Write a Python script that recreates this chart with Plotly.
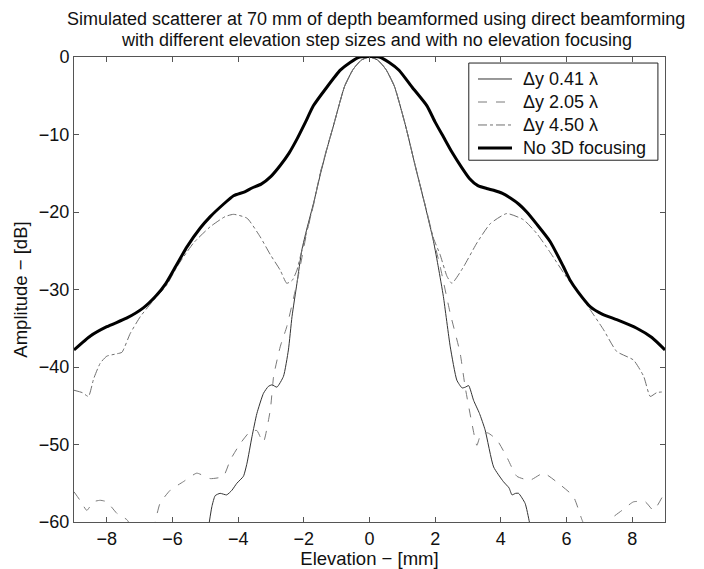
import plotly.graph_objects as go

# ---- data ----
x_nofocus = [-9.0, -8.5, -8.0, -7.4, -6.9, -6.5, -6.2, -5.9, -5.56, -5.16, -4.85, -4.45, -4.14, -3.8,
             -3.58, -3.3, -3.0, -2.72, -2.45, -2.21, -1.95, -1.71, -1.30, -0.89, -0.59, -0.3,
             0.3, 0.6, 0.9, 1.3, 1.75, 2.0, 2.25, 2.5, 2.8, 3.05, 3.3, 3.6, 3.78, 4.05, 4.29, 4.55, 4.79,
             5.1, 5.5, 5.9, 6.11, 6.35, 6.72, 7.1, 7.53, 8.14, 8.6, 9.0]
y_nofocus = [-37.8, -36.0, -34.8, -33.7, -32.4, -30.8, -29.2, -27.0, -24.5, -22.1, -20.6, -19.0, -17.9, -17.4,
             -16.9, -16.4, -15.4, -14.0, -12.4, -10.6, -8.4, -6.3, -3.9, -1.7, -0.7, 0.0,
             0.0, -0.7, -1.7, -3.9, -6.3, -8.4, -10.3, -12.2, -14.2, -15.7, -16.6, -17.0, -17.2, -17.6, -18.2, -19.0, -20.0,
             -21.6, -23.8, -27.0, -28.8, -30.3, -32.2, -33.2, -33.9, -35.0, -36.2, -37.8]

x_041 = [-4.95, -4.8, -4.70, -4.55, -4.35, -4.19, -4.04, -3.84, -3.73, -3.58, -3.43, -3.23, -3.08, -2.97,
         -2.82, -2.62, -2.47, -2.36, -2.21, -2.06, -1.91, -1.70, -1.50, -1.30, -1.10, -0.76, -0.5, -0.25, 0.0,
         0.25, 0.5, 0.76, 1.10, 1.39, 1.70, 1.95, 2.10, 2.25, 2.46, 2.66, 2.82, 2.92, 3.02, 3.17, 3.35,
         3.52, 3.78, 4.08, 4.25, 4.34, 4.45, 4.54, 4.74, 4.87, 4.95]
y_041 = [-62.0, -58.0, -56.6, -56.3, -56.5, -55.9, -55.0, -54.1, -52.4, -49.0, -46.0, -43.4, -42.5, -42.3,
         -42.6, -41.2, -37.8, -33.5, -29.2, -24.9, -22.2, -18.8, -15.2, -11.9, -8.9, -3.8, -1.6, -0.4, 0.0,
         -0.4, -1.6, -3.8, -8.9, -14.0, -19.3, -23.8, -27.2, -30.9, -37.4, -41.7, -42.7, -42.6, -42.4, -44.3, -46.0,
         -48.1, -52.9, -54.8, -55.6, -56.5, -56.3, -56.3, -57.6, -60.0, -62.0]

x_205 = [-9.0, -8.8, -8.61, -8.41, -8.2, -8.0, -7.69, -7.39, -7.2, -7.0, -6.8, -6.6, -6.53, -6.38, -6.07,
         -5.67, -5.26, -4.85, -4.45, -4.24, -3.94, -3.63, -3.43, -3.33, -3.23, -3.02, -2.92, -2.72, -2.52,
         -2.26, -2.1, -1.91, -1.70, -1.50, -1.30, -1.10, -0.76, -0.5, -0.25, 0.0,
         0.25, 0.5, 0.76, 1.10, 1.39, 1.70, 1.95, 2.15, 2.46, 2.76, 2.91, 3.12, 3.27, 3.40, 3.60, 3.88,
         4.18, 4.49, 4.89, 5.30, 5.81, 6.21, 6.47, 6.6, 6.8, 7.0, 7.2, 7.33, 7.69, 8.04, 8.4, 8.65, 9.0]
y_205 = [-56.1, -57.3, -58.5, -57.4, -57.2, -57.4, -58.9, -59.7, -61.0, -63.0, -63.0, -61.0, -60.0, -57.6, -55.9,
         -54.8, -53.7, -54.4, -54.1, -52.0, -49.9, -48.3, -48.2, -49.0, -49.7, -45.5, -41.2, -37.4, -34.8,
         -30.1, -26.8, -22.6, -19.0, -15.0, -11.8, -8.9, -3.8, -1.6, -0.4, 0.0,
         -0.4, -1.6, -3.8, -8.9, -14.0, -19.2, -23.6, -27.0, -33.1, -38.2, -42.5, -47.3, -50.1, -48.6, -48.5, -49.4,
         -51.6, -54.1, -54.6, -53.7, -55.2, -56.7, -59.7, -61.0, -63.0, -63.0, -61.0, -59.7, -58.5, -57.4, -57.4, -58.5, -56.1]

x_450 = [-9.0, -8.75, -8.56, -8.4, -8.2, -8.0, -7.7, -7.54, -7.29, -6.98, -6.58, -6.17, -5.87, -5.36, -4.85,
         -4.4, -4.14, -3.73, -3.33, -3.02, -2.72, -2.52, -2.35, -2.21, -2.11, -1.95, -1.70, -1.50, -1.30, -1.10,
         -0.76, -0.5, -0.25, 0.0, 0.25, 0.5, 0.76, 1.10, 1.39, 1.70, 1.95, 2.15, 2.36, 2.51, 2.86, 3.27, 3.68,
         4.18, 4.69, 5.1, 5.5, 6.0, 6.32, 6.72, 7.13, 7.53, 8.04, 8.35, 8.55, 8.75, 9.0]
y_450 = [-43.0, -43.3, -43.8, -41.5, -39.5, -38.6, -38.3, -38.1, -35.7, -33.5, -31.4, -29.4, -27.1, -24.0, -21.9,
         -20.6, -20.3, -20.8, -23.2, -25.5, -27.5, -29.2, -28.8, -27.5, -25.8, -23.2, -18.9, -15.0, -11.9, -8.9,
         -3.8, -1.6, -0.4, 0.0, -0.4, -1.6, -3.8, -8.9, -14.0, -19.2, -23.4, -25.5, -28.3, -29.2, -27.1, -24.0, -21.5,
         -20.2, -21.0, -22.8, -25.2, -28.4, -30.1, -32.6, -35.2, -38.0, -39.1, -41.2, -43.8, -43.3, -43.2]

labels = ["\u0394y 0.41 \u03bb", "\u0394y 2.05 \u03bb", "\u0394y 4.50 \u03bb", "No 3D focusing"]
title_lines = ["Simulated scatterer at 70 mm of depth beamformed using direct beamforming",
               "with different elevation step sizes and with no elevation focusing"]

x_ticks = [-8, -6, -4, -2, 0, 2, 4, 6, 8]
y_ticks = [-60, -50, -40, -30, -20, -10, 0]

FONT = "Liberation Sans, Arial, sans-serif"
TXT = "#111111"

styles = [dict(color="#333333", width=1, dash="solid"),
          dict(color="#7a7a7a", width=1, dash="dash"),
          dict(color="#707070", width=1, dash="dashdot"),
          dict(color="#000000", width=3, dash="solid")]
series = [(x_041, y_041), (x_205, y_205), (x_450, y_450), (x_nofocus, y_nofocus)]

fig = go.Figure()
for (xs, ys), st, lab in zip(series, styles, labels):
    fig.add_trace(go.Scatter(x=xs, y=ys, mode="lines", name=lab, showlegend=False,
                             line=dict(color=st["color"], width=st["width"], dash=st["dash"],
                                       shape="spline", smoothing=0.5)))

# legend box drawn in paper coordinates (compact MATLAB-style legend)
shapes = [dict(type="rect", xref="paper", yref="paper", x0=0.668, x1=0.988, y0=0.778, y1=0.987,
               line=dict(color="#222222", width=1), fillcolor="white", layer="above")]
annotations = []
row_y = [0.9527, 0.9032, 0.8538, 0.8043]
for ry, st, lab in zip(row_y, styles, labels):
    shapes.append(dict(type="line", xref="paper", yref="paper", x0=0.6836, x1=0.7411, y0=ry, y1=ry,
                       line=dict(color=st["color"], width=st["width"], dash=st["dash"]), layer="above"))
    annotations.append(dict(text=lab, xref="paper", yref="paper", x=0.7563, y=ry, xanchor="left",
                            yanchor="middle", showarrow=False, font=dict(size=18, family=FONT, color=TXT)))

# two-line title
annotations.append(dict(text=title_lines[0], xref="paper", yref="paper", x=0.511, y=1, xanchor="center",
                        yanchor="middle", yshift=38, showarrow=False, font=dict(size=18, family=FONT, color=TXT)))
annotations.append(dict(text=title_lines[1], xref="paper", yref="paper", x=0.511, y=1, xanchor="center",
                        yanchor="middle", yshift=17, showarrow=False, font=dict(size=18, family=FONT, color=TXT)))

axis_common = dict(showline=True, linecolor="#555555", linewidth=1, mirror="allticks",
                   ticks="inside", ticklen=5, tickcolor="#555555", showgrid=False, zeroline=False,
                   automargin=False,
                   tickfont=dict(size=18, color=TXT, family=FONT))

# page body adds an 8px offset, so the figure is sized 8px smaller
fig.update_layout(
    width=696, height=561,
    paper_bgcolor="white", plot_bgcolor="white",
    margin=dict(l=66, r=39, t=49, b=47),
    font=dict(family=FONT, size=18, color=TXT),
    shapes=shapes,
    annotations=annotations,
    xaxis=dict(range=[-9, 9], tickvals=x_ticks, title=dict(text="Elevation \u2212 [mm]", standoff=0,
               font=dict(size=18.5, family=FONT, color=TXT)), **axis_common),
    yaxis=dict(range=[-60, 0], tickvals=y_ticks, title=dict(text="Amplitude \u2212 [dB]", standoff=6,
               font=dict(size=18.5, family=FONT, color=TXT)), **axis_common),
    showlegend=False,
)

fig.write_html("out.html")
